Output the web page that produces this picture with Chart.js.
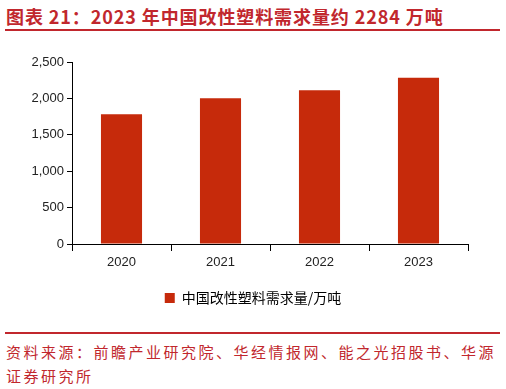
<!DOCTYPE html>
<html>
<head>
<meta charset="utf-8">
<script src="https://cdn.jsdelivr.net/npm/chart.js@4"></script>
<style>
  html, body { margin: 0; padding: 0; background: #fff; }
  body { width: 506px; height: 389px; position: relative; overflow: hidden;
         font-family: "Noto Sans CJK SC", "Noto Sans", sans-serif; }
  .title { position: absolute; left: 6px; top: 3px; font-size: 18px; font-weight: bold;
           color: #c1272d; letter-spacing: 0.9px; white-space: nowrap; }
  .rule { position: absolute; left: 5px; width: 495px; height: 2px; background: #c1272d; }
  .src { position: absolute; left: 6px; top: 340px; width: 500px; font-size: 15px;
         line-height: 24px; color: #c1272d; letter-spacing: 2.5px; }
  #wrap { position: absolute; left: 0; top: 40px; width: 506px; height: 275px; }
</style>
</head>
<body>
<div class="title">图表 21：2023 年中国改性塑料需求量约 2284 万吨</div>
<div class="rule" style="top:29px"></div>
<div id="wrap"><canvas id="chart"></canvas></div>
<div class="rule" style="top:332px"></div>
<div class="src">资料来源：前瞻产业研究院、华经情报网、能之光招股书、华源证券研究所</div>
<script>
// ── Data ──────────────────────────────────────────────────────────────────────
const years = ["2020", "2021", "2022", "2023"];
const demand = [1782, 2003, 2113, 2284];
const seriesName = "中国改性塑料需求量/万吨";
const yTicks = [0, 500, 1000, 1500, 2000, 2500];

const RED = "#c62a0b";

new Chart(document.getElementById("chart"), {
  type: "bar",
  data: {
    labels: years,
    datasets: [{ label: seriesName, data: demand, backgroundColor: RED, borderWidth: 0,
                 categoryPercentage: 1, barPercentage: 0.415 }],
  },
  options: {
    responsive: true,
    maintainAspectRatio: false,
    animation: false,
    layout: { padding: { top: 22, right: 0, left: 0, bottom: 0 } },
    plugins: {
      tooltip: { enabled: false },
      legend: {
        position: "bottom",
        labels: { color: "#000", boxWidth: 10, boxHeight: 10, padding: 9,
                  font: { size: 14, family: "'Noto Sans CJK SC', sans-serif" } },
      },
    },
    scales: {
      x: {
        grid: { drawOnChartArea: false, drawTicks: true, tickLength: 7, color: "#000", offset: true },
        border: { color: "#000", width: 1 },
        ticks: { color: "#222", padding: 4, font: { size: 13, family: "'Liberation Sans', Arial, sans-serif" } },
        afterFit: s => { s.height = 38; },
      },
      y: {
        min: 0, max: 2500,
        afterBuildTicks: s => { s.ticks = yTicks.map(v => ({ value: v })); },
        grid: { drawOnChartArea: false, drawTicks: true, tickLength: 5, color: "#000" },
        border: { color: "#000", width: 1 },
        ticks: { color: "#222", padding: 3, font: { size: 13, family: "'Liberation Sans', Arial, sans-serif" },
                 callback: v => v.toLocaleString("en-US") },
        afterFit: s => { s.width = 72; },
      },
      // empty spacer on the right so the legend centres on the full width
      yr: {
        position: "right", min: 0, max: 1,
        grid: { display: false }, border: { display: false }, ticks: { display: false },
        afterFit: s => { s.width = 38; },
      },
    },
  },
});
</script>
</body>
</html>
